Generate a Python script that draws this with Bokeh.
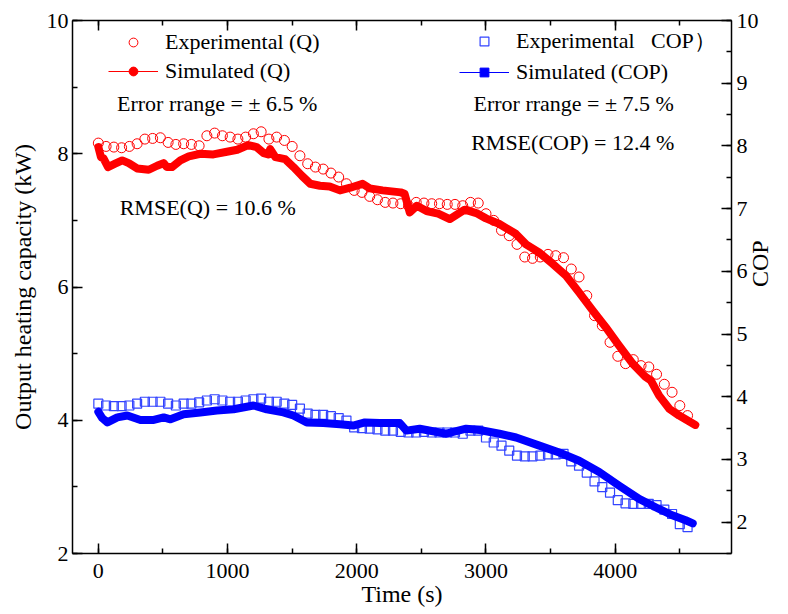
import math
from bokeh.plotting import figure
from bokeh.models import (Range1d, LinearAxis, Legend, LegendItem, Label,
                          SingleIntervalTicker)
from bokeh.embed import file_html
from bokeh.resources import INLINE

# ---------------- data ----------------
exp_t = [0, 60, 120, 180, 240, 300, 360, 420, 480, 540, 600, 660, 720, 780,
         840, 900, 960, 1020, 1080, 1140, 1200, 1260, 1320, 1380, 1440, 1500,
         1560, 1620, 1680, 1740, 1800, 1860, 1920, 1980, 2040, 2100, 2160,
         2220, 2280, 2340, 2400, 2460, 2520, 2580, 2640, 2700, 2760, 2820,
         2880, 2940, 3000, 3060, 3120, 3180, 3240, 3300, 3360, 3420, 3480,
         3540, 3600, 3660, 3720, 3780, 3840, 3900, 3960, 4020, 4080, 4140,
         4200, 4260, 4320, 4380, 4440, 4500, 4560]

exp_q = [8.16, 8.11, 8.10, 8.09, 8.11, 8.15, 8.22, 8.23, 8.24, 8.17, 8.14,
         8.15, 8.14, 8.12, 8.27, 8.31, 8.27, 8.25, 8.22, 8.25, 8.30, 8.33,
         8.22, 8.25, 8.20, 8.11, 7.97, 7.85, 7.80, 7.77, 7.71, 7.65, 7.55,
         7.45, 7.42, 7.36, 7.31, 7.27, 7.26, 7.25, 7.22, 7.27, 7.26, 7.25,
         7.25, 7.24, 7.24, 7.22, 7.27, 7.26, 7.10, 7.00, 6.85, 6.77, 6.64,
         6.45, 6.43, 6.45, 6.49, 6.47, 6.44, 6.27, 6.15, 5.87, 5.57, 5.42,
         5.17, 4.96, 4.85, 4.91, 4.82, 4.80, 4.69, 4.54, 4.42, 4.22, 4.07]

exp_cop = [3.89, 3.86, 3.85, 3.85, 3.86, 3.89, 3.92, 3.92, 3.92, 3.89, 3.86,
           3.89, 3.89, 3.91, 3.94, 3.96, 3.94, 3.92, 3.92, 3.94, 3.96, 3.97,
           3.92, 3.92, 3.89, 3.87, 3.81, 3.73, 3.71, 3.71, 3.69, 3.66, 3.62,
           3.51, 3.50, 3.49, 3.48, 3.46, 3.46, 3.44, 3.43, 3.43, 3.44, 3.43,
           3.43, 3.43, 3.43, 3.41, 3.46, 3.46, 3.35, 3.27, 3.22, 3.14, 3.06,
           3.05, 3.05, 3.06, 3.08, 3.08, 3.09, 2.97, 2.90, 2.79, 2.65, 2.56,
           2.47, 2.35, 2.30, 2.29, 2.29, 2.29, 2.27, 2.20, 2.13, 1.97, 1.92]

sim_q_t = [0, 20, 40, 75, 130, 185, 235, 300, 390, 455, 505, 530, 570, 635,
           700, 790, 890, 995, 1075, 1160, 1225, 1280, 1315, 1330, 1370, 1445,
           1510, 1575, 1640, 1715, 1790, 1870, 1950, 2045, 2100, 2200, 2340,
           2370, 2410, 2465, 2540, 2630, 2720, 2835, 2925, 3000, 3100, 3230,
           3310, 3410, 3515, 3620, 3720, 3825, 3925, 4030, 4135, 4235, 4275,
           4340, 4420, 4495, 4620]
sim_q = [8.10, 7.95, 7.93, 7.80, 7.85, 7.90, 7.86, 7.78, 7.76, 7.82, 7.86,
         7.80, 7.80, 7.90, 7.96, 8.00, 7.99, 8.03, 8.06, 8.13, 8.10, 8.01,
         7.99, 8.07, 7.95, 7.92, 7.80, 7.67, 7.55, 7.52, 7.51, 7.45, 7.49,
         7.55, 7.48, 7.45, 7.42, 7.40, 7.12, 7.22, 7.14, 7.10, 7.02, 7.16,
         7.11, 7.03, 6.95, 6.80, 6.64, 6.52, 6.35, 6.17, 5.92, 5.65, 5.40,
         5.12, 4.85, 4.65, 4.60, 4.37, 4.17, 4.07, 3.93]

sim_cop_t = [0, 30, 70, 147, 224, 326, 429, 506, 558, 660, 789, 918, 1046,
             1201, 1304, 1432, 1509, 1613, 1741, 1870, 1972, 2063, 2178, 2333,
             2384, 2487, 2693, 2847, 2950, 3104, 3233, 3413, 3567, 3721, 3876,
             4031, 4185, 4339, 4441, 4545, 4600]
sim_cop = [3.76, 3.66, 3.59, 3.67, 3.70, 3.63, 3.63, 3.67, 3.64, 3.72, 3.75,
           3.78, 3.80, 3.86, 3.80, 3.75, 3.70, 3.59, 3.58, 3.56, 3.54, 3.59,
           3.58, 3.58, 3.46, 3.49, 3.41, 3.49, 3.47, 3.41, 3.35, 3.22, 3.11,
           2.98, 2.80, 2.58, 2.37, 2.21, 2.11, 2.03, 1.98]

x_ticks_interval = 1000
q_ticks_interval = 2
cop_ticks_interval = 1

RED = "#ff0000"
BLUE = "#0000ff"
FONT = "Liberation Serif"

# ---------------- figure ----------------
p = figure(width=788, height=614, output_backend="svg", toolbar_location=None,
           x_range=Range1d(-200, 4900), y_range=Range1d(2, 10),
           min_border_left=72, min_border_right=56, min_border_top=20,
           min_border_bottom=61)
p.extra_y_ranges = {"cop": Range1d(1.5, 10)}
p.grid.visible = False
p.outline_line_color = None
p.background_fill_color = "white"
p.border_fill_color = "white"


def style(ax, labels=True):
    ax.axis_line_width = 1.5
    ax.axis_line_color = "black"
    ax.major_tick_in = 10
    ax.major_tick_out = 0
    ax.minor_tick_in = 5
    ax.minor_tick_out = 0
    ax.major_tick_line_width = 1.5
    ax.minor_tick_line_width = 1.5
    ax.major_tick_line_color = "black"
    ax.minor_tick_line_color = "black"
    ax.major_label_text_font = FONT
    if labels:
        ax.major_label_text_color = "black"
        ax.major_label_text_font_size = "22px"
    else:
        ax.major_label_text_color = None
        ax.major_label_text_font_size = "0px"
    ax.axis_label_text_font = FONT
    ax.axis_label_text_font_size = "24px"
    ax.axis_label_text_font_style = "normal"
    ax.axis_label_text_color = "black"


xb = p.xaxis[0]
xb.ticker = SingleIntervalTicker(interval=x_ticks_interval, num_minor_ticks=2)
xb.axis_label = "Time (s)"
style(xb)
xb.major_label_standoff = 10
xb.axis_label_standoff = 0

yl = p.yaxis[0]
yl.ticker = SingleIntervalTicker(interval=q_ticks_interval, num_minor_ticks=2)
yl.axis_label = "Output heating capacity (kW)"
style(yl)
yl.major_label_standoff = 4
yl.axis_label_standoff = 8

yr = LinearAxis(y_range_name="cop",
                ticker=SingleIntervalTicker(interval=cop_ticks_interval,
                                            num_minor_ticks=2),
                axis_label="COP")
style(yr)
yr.major_label_standoff = 5
yr.axis_label_standoff = -2
if "axis_label_orientation" in yr.properties():
    yr.axis_label_orientation = math.pi / 2
p.add_layout(yr, "right")

xt = LinearAxis(ticker=SingleIntervalTicker(interval=x_ticks_interval,
                                            num_minor_ticks=2))
style(xt, labels=False)
xt.major_label_standoff = 0
p.add_layout(xt, "above")

# ---------------- data glyphs ----------------
r_exp_q = p.scatter(exp_t, exp_q, marker="circle", size=10,
                    fill_color=None, line_color=RED, line_width=1)
r_exp_cop = p.scatter(exp_t, exp_cop, marker="square", size=9,
                      fill_color=None, line_color="#3344ff", line_width=1.2,
                      y_range_name="cop")
p.line(sim_q_t, sim_q, line_color=RED, line_width=8,
       line_join="round", line_cap="round")
p.line(sim_cop_t, sim_cop, line_color=BLUE, line_width=8,
       line_join="round", line_cap="round", y_range_name="cop")

# legend-only renderers (thin line + filled marker), kept off-frame
off = [-1000]
lq_line = p.line(off, off, line_color=RED, line_width=1)
lq_mark = p.scatter(off, off, marker="circle", fill_color=RED,
                    line_color=RED)
lc_line = p.line(off, off, line_color=BLUE, line_width=1)
lc_mark = p.scatter(off, off, marker="square", fill_color=BLUE,
                    line_color=BLUE)


def make_legend(items, loc):
    lg = Legend(items=items, location=loc, orientation="vertical",
                border_line_color=None, background_fill_alpha=0,
                padding=0, margin=0, spacing=3,
                glyph_width=50, glyph_height=22, label_height=20,
                label_standoff=7,
                label_text_font=FONT, label_text_font_size="22px",
                label_text_color="black")
    p.add_layout(lg, "center")
    return lg


make_legend([LegendItem(label="Experimental (Q)", renderers=[r_exp_q]),
             LegendItem(label="Simulated (Q)", renderers=[lq_line, lq_mark])],
            (36, 469))
make_legend([LegendItem(label="Experimental   COP）", renderers=[r_exp_cop]),
             LegendItem(label="Simulated (COP)", renderers=[lc_line, lc_mark])],
            (387, 468))

# ---------------- text annotations ----------------
notes = [
    (920, 8.75, "Error rrange = ± 6.5 %"),
    (847, 7.19, "RMSE(Q) = 10.6 %"),
    (3679, 8.75, "Error rrange = ± 7.5 %"),
    (3671, 8.17, "RMSE(COP) = 12.4 %"),
]
for nx, ny, txt in notes:
    p.add_layout(Label(x=nx, y=ny, text=txt, text_align="center",
                       text_baseline="middle", text_font=FONT,
                       text_font_size="22px", text_color="black"))

open("out.html", "w").write(file_html(p, INLINE))
